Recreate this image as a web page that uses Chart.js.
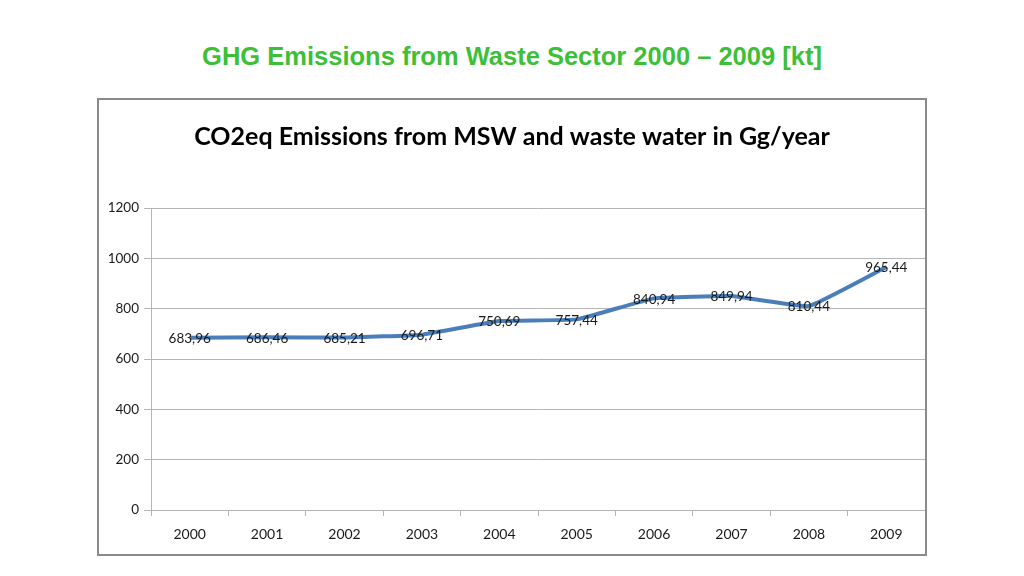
<!DOCTYPE html>
<html>
<head>
<meta charset="utf-8">
<script src="https://cdn.jsdelivr.net/npm/chart.js@4/dist/chart.umd.min.js"></script>
<style>
  body { margin: 0; width: 1024px; height: 576px; background: #fff; position: relative; overflow: hidden; }
  #pageTitle {
    position: absolute; left: 0; top: 42px; width: 1024px; text-align: center;
    font-family: "Liberation Sans", Arial, sans-serif; font-weight: bold; font-size: 25.5px;
    color: #3dbf38;
  }
  #box {
    position: absolute; left: 97px; top: 98px; width: 830px; height: 458px;
    border: 2px solid #8a8a8a; box-sizing: border-box;
  }
  #wrap { position: absolute; left: 0; top: 0; width: 826px; height: 454px; }
</style>
</head>
<body>
<div id="pageTitle">GHG Emissions from Waste Sector 2000 – 2009 [kt]</div>
<div id="box"><div id="wrap"><canvas id="chart"></canvas></div></div>
<script>
const years = ['2000', '2001', '2002', '2003', '2004', '2005', '2006', '2007', '2008', '2009'];
const emissions = [683.96, 686.46, 685.21, 696.71, 750.69, 757.44, 840.94, 849.94, 810.44, 965.44];
const yTicks = [0, 200, 400, 600, 800, 1000, 1200];

const FONT = 'Lato, "Open Sans", sans-serif';

// draws the value of each point on top of the line, Excel style (comma decimals)
const valueLabels = {
    id: 'valueLabels',
    afterDatasetsDraw(chart) {
        const ctx = chart.ctx;
        const meta = chart.getDatasetMeta(0);
        ctx.save();
        ctx.font = '13.5px ' + FONT;
        ctx.fillStyle = '#1a1a1a';
        ctx.textAlign = 'center';
        ctx.textBaseline = 'middle';
        meta.data.forEach((pt, i) => {
            const txt = emissions[i].toFixed(2).replace('.', ',');
            ctx.fillText(txt, pt.x, pt.y + 1);
        });
        ctx.restore();
    }
};

new Chart(document.getElementById('chart').getContext('2d'), {
    type: 'line',
    data: {
        labels: years,
        datasets: [{
            data: emissions,
            borderColor: '#4a7ebb',
            borderWidth: 4,
            pointRadius: 0,
            tension: 0.1,
            borderJoinStyle: 'round',
            fill: false
        }]
    },
    options: {
        responsive: true,
        maintainAspectRatio: false,
        animation: false,
        layout: { padding: { left: 0, right: 0, top: 0, bottom: 0 } },
        plugins: {
            legend: { display: false },
            tooltip: { enabled: false },
            title: {
                display: true,
                text: 'CO2eq Emissions from MSW and waste water in Gg/year',
                color: '#000',
                font: { family: FONT, size: 25, weight: 'bold' },
                padding: { top: 22, bottom: 56 }
            }
        },
        scales: {
            x: {
                offset: true,
                grid: {
                    offset: true,
                    drawOnChartArea: false,
                    drawTicks: true,
                    tickLength: 6,
                    color: '#b5b5b5'
                },
                border: { display: true, color: '#b5b5b5', width: 1 },
                ticks: { color: '#1a1a1a', font: { family: FONT, size: 14 }, padding: 10 },
                afterFit(s) { s.height = 44; }
            },
            y: {
                min: 0,
                max: 1200,
                afterBuildTicks(s) { s.ticks = yTicks.map(v => ({ value: v })); },
                grid: { color: '#b5b5b5', tickLength: 7 },
                border: { display: true, color: '#b5b5b5', width: 1 },
                ticks: {
                    color: '#1a1a1a',
                    font: { family: FONT, size: 13.5 },
                    padding: 5,
                    callback: v => String(v)
                },
                afterFit(s) { s.width = 52; }
            }
        }
    },
    plugins: [valueLabels]
});
</script>
</body>
</html>
